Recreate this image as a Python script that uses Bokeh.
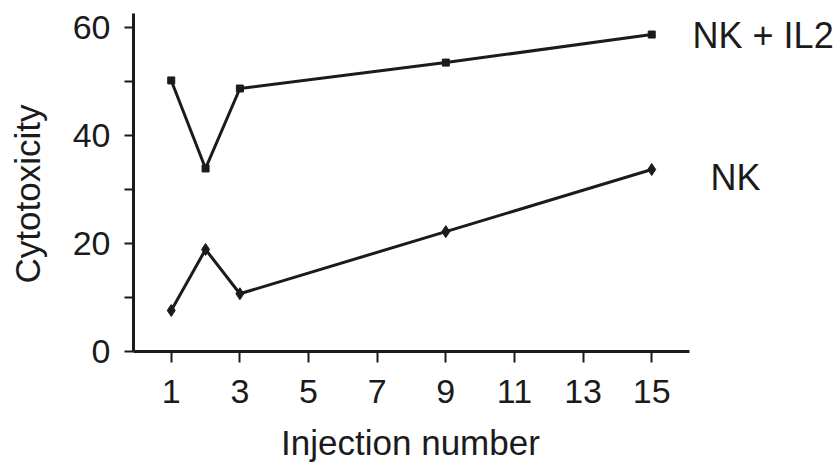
from bokeh.plotting import figure
from bokeh.models import Range1d, FixedTicker
from bokeh.core.properties import value
from bokeh.embed import file_html
from bokeh.resources import INLINE

# Data
injection = [1, 2, 3, 9, 15]
nk_il2 = [50.2, 33.9, 48.7, 53.5, 58.7]
nk = [7.6, 18.9, 10.7, 22.2, 33.7]
x_ticks = [1, 3, 5, 7, 9, 11, 13, 15]
y_ticks = [0, 20, 40, 60]
y_minor_ticks = [10, 30, 50]
series_names = ["NK + IL2", "NK"]
x_title = "Injection number"
y_title = "Cytotoxicity"

INK = "#1b1b1b"
FONT = "Liberation Sans"

p = figure(width=837, height=471, output_backend="svg", toolbar_location=None,
           x_range=Range1d(-3.975, 20.413), y_range=Range1d(-22.22, 65.0),
           min_border_left=0, min_border_right=0, min_border_top=0, min_border_bottom=0)
p.outline_line_color = None
p.xgrid.visible = False
p.ygrid.visible = False
p.background_fill_color = "white"
p.border_fill_color = "white"

for ax in (p.xaxis[0], p.yaxis[0]):
    ax.axis_line_color = INK
    ax.axis_line_width = 3
    ax.major_tick_line_color = INK
    ax.major_tick_line_width = 2
    ax.major_tick_in = 0
    ax.minor_tick_in = 0
    ax.major_label_text_font = FONT
    ax.major_label_text_font_size = "34px"
    ax.major_label_text_color = INK

p.xaxis.fixed_location = 0
p.xaxis.bounds = (-0.1, 16.1)
p.xaxis.ticker = FixedTicker(ticks=x_ticks)
p.xaxis.major_tick_out = 11
p.xaxis.minor_tick_line_color = None
p.xaxis.major_label_standoff = 17

p.yaxis.fixed_location = -0.1
p.yaxis.bounds = (0, 62.6)
p.yaxis.ticker = FixedTicker(ticks=y_ticks, minor_ticks=y_minor_ticks)
p.yaxis.major_tick_out = 9
p.yaxis.minor_tick_out = 9
p.yaxis.minor_tick_line_color = INK
p.yaxis.minor_tick_line_width = 2
p.yaxis.major_label_standoff = 14

p.line(injection, nk_il2, line_color=INK, line_width=3)
p.scatter(injection, nk_il2, marker="square", size=7, fill_color=INK, line_color=INK)
p.line(injection, nk, line_color=INK, line_width=3)
p.scatter(injection, nk, marker="diamond", size=12, fill_color=INK, line_color=INK)

# series names to the right of the lines
p.text([16.19, 16.71], [58.52, 32.22], text=series_names, text_font=value(FONT),
       text_font_size="36px", text_color=INK, text_baseline="alphabetic", text_align="left")

# axis titles
p.text([7.97], [-16.85], text=[x_title], text_font=value(FONT), text_font_size="35px",
       text_color=INK, text_baseline="alphabetic", text_align="center")
p.text([-3.19], [29.17], text=[y_title], text_font=value(FONT), text_font_size="35px",
       text_color=INK, text_baseline="alphabetic", text_align="center", angle=1.5708)

open("out.html", "w").write(file_html(p, INLINE))
